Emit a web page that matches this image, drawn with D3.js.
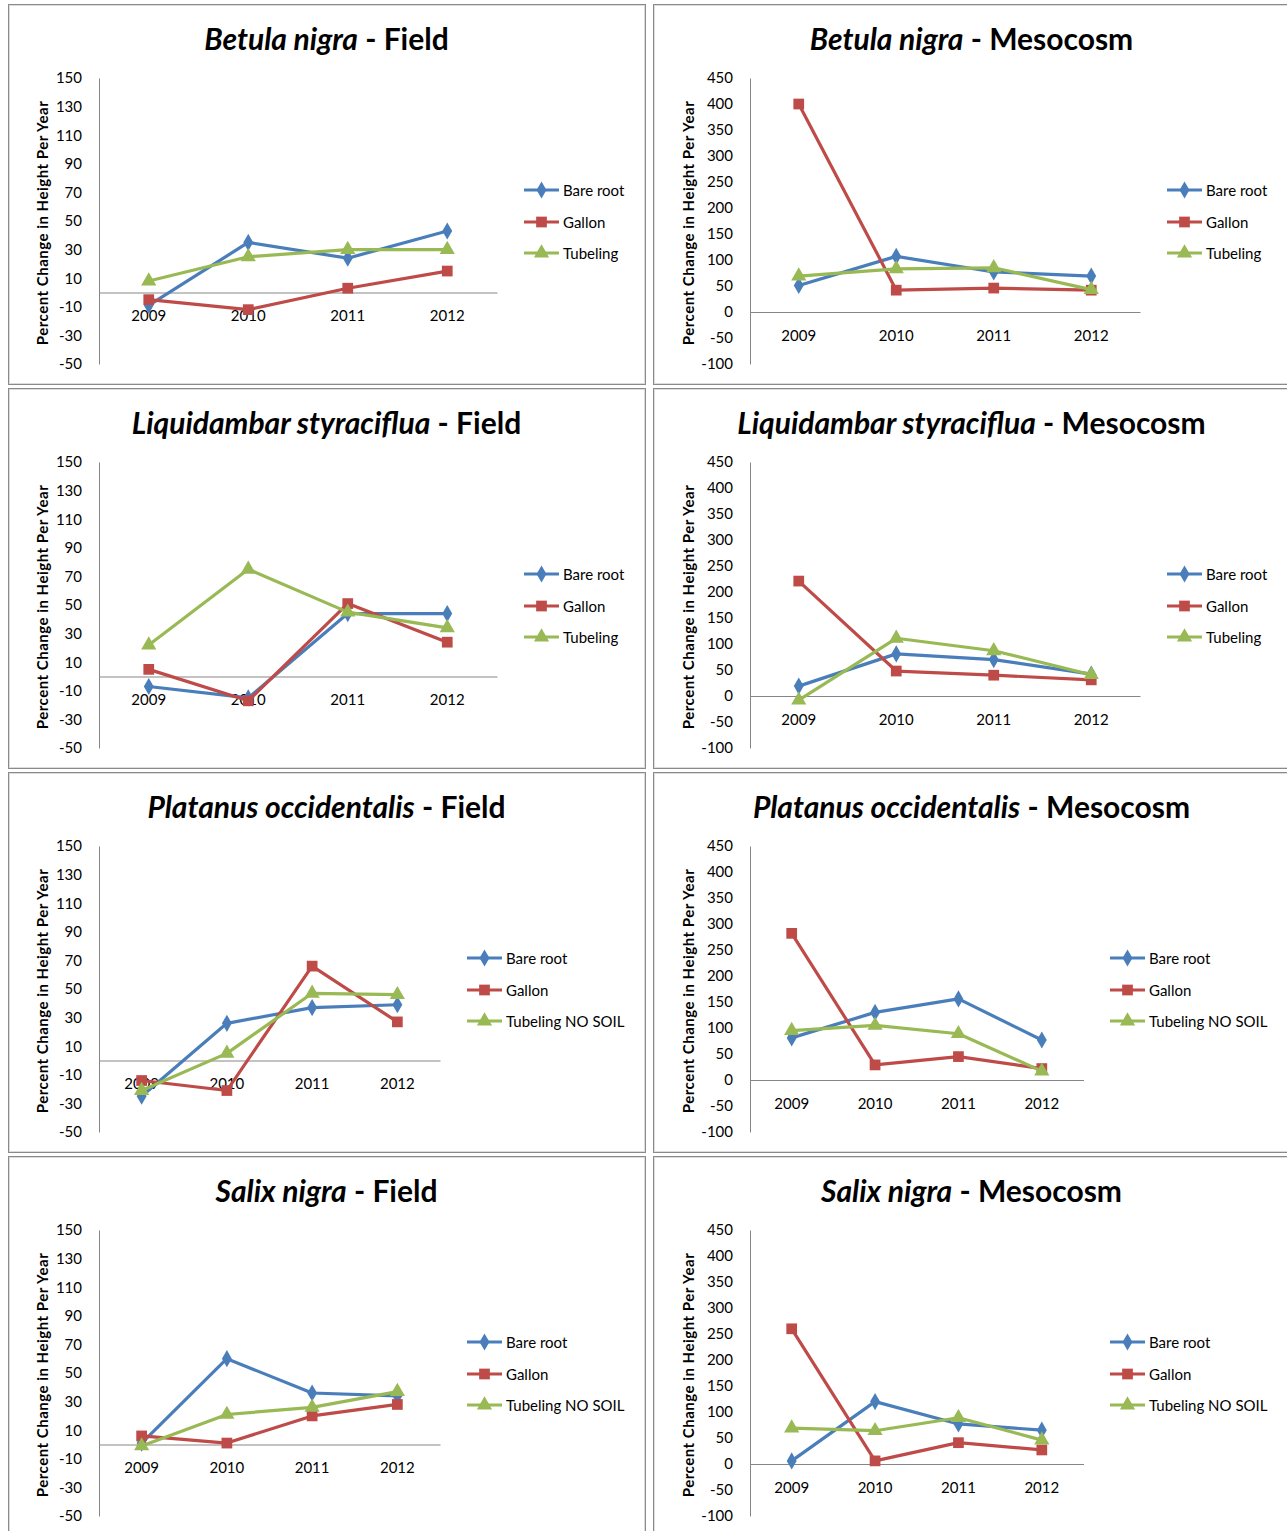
<!DOCTYPE html>
<html><head><meta charset="utf-8">
<script src="https://cdn.jsdelivr.net/npm/d3@7/dist/d3.min.js"></script>
<style>
html,body{margin:0;padding:0;background:#fff;}
svg{display:block;font-family:Lato, "Open Sans", sans-serif;}
</style></head>
<body>
<svg id="chart" width="1287" height="1531"></svg>
<script>
// ---- data ----
const years = ["2009", "2010", "2011", "2012"];
const speciesNames = ["Betula nigra", "Liquidambar styraciflua", "Platanus occidentalis", "Salix nigra"];
const siteNames = ["Field", "Mesocosm"];
const seriesNamesTubeling = ["Bare root", "Gallon", "Tubeling"];
const seriesNamesNoSoil = ["Bare root", "Gallon", "Tubeling NO SOIL"];
const fieldTicks = [150, 130, 110, 90, 70, 50, 30, 10, -10, -30, -50];
const mesoTicks = [450, 400, 350, 300, 250, 200, 150, 100, 50, 0, -50, -100];

// [Bare root, Gallon, Tubeling] per panel
const betulaField = [[-9, 35, 24, 43], [-5, -12, 3, 15], [8, 25, 30, 30]];
const betulaMeso = [[51, 107, 77, 69], [400, 42, 46, 42], [69, 83, 85, 43]];
const liquidambarField = [[-7, -15, 44, 44], [5, -17, 51, 24], [22, 75, 45, 34]];
const liquidambarMeso = [[19, 81, 70, 42], [221, 48, 40, 31], [-8, 111, 87, 41]];
const platanusField = [[-25, 26, 37, 39], [-14, -21, 66, 27], [-21, 5, 47, 46]];
const platanusMeso = [[81, 130, 156, 77], [282, 29, 45, 22], [95, 105, 89, 17]];
const salixField = [[1, 60, 36, 34], [6, 1, 20, 28], [-1, 21, 26, 37]];
const salixMeso = [[6, 120, 77, 65], [260, 6, 41, 27], [69, 64, 89, 46]];

const colors = ["#4A7EBB", "#BE4B48", "#98B954"];
const markers = [d3.symbolDiamond, d3.symbolSquare, d3.symbolTriangle];
const markerSizes = [85, 115, 100];

const panels = [
  {sp: 0, site: 0, vals: betulaField, names: seriesNamesTubeling},
  {sp: 0, site: 1, vals: betulaMeso, names: seriesNamesTubeling},
  {sp: 1, site: 0, vals: liquidambarField, names: seriesNamesTubeling},
  {sp: 1, site: 1, vals: liquidambarMeso, names: seriesNamesTubeling},
  {sp: 2, site: 0, vals: platanusField, names: seriesNamesNoSoil},
  {sp: 2, site: 1, vals: platanusMeso, names: seriesNamesNoSoil},
  {sp: 3, site: 0, vals: salixField, names: seriesNamesNoSoil},
  {sp: 3, site: 1, vals: salixMeso, names: seriesNamesNoSoil}
];

const svg = d3.select("#chart");
const colX = [8, 653];
const rowY = [4, 388, 772, 1156];
const frameW = 637, frameH = 380;

panels.forEach((p, i) => {
  const col = i % 2, row = Math.floor(i / 2);
  const g = svg.append("g").attr("transform", `translate(${colX[col]},${rowY[row]})`);
  const isMeso = p.site === 1;
  const longLegend = row >= 2;

  // frame
  g.append("rect").attr("x", 0.5).attr("y", 0.5).attr("width", frameW).attr("height", frameH)
    .attr("fill", "#fff").attr("stroke", "#8a8a8a").attr("stroke-width", 1);
  g.append("rect").attr("x", 1.5).attr("y", 1.5).attr("width", frameW - 2).attr("height", frameH - 2)
    .attr("fill", "none").attr("stroke", "#dcdcdc").attr("stroke-width", 1);

  // title
  const t = g.append("text").attr("x", frameW / 2).attr("y", 34).attr("text-anchor", "middle")
    .attr("dominant-baseline", "central").attr("font-size", 30).attr("font-weight", "bold").attr("fill", "#000");
  t.append("tspan").attr("font-style", "italic").text(speciesNames[p.sp]);
  t.append("tspan").text(" - " + siteNames[p.site]);

  const axisX = isMeso ? 97 : 91;
  const plotRight = longLegend ? (isMeso ? 430.5 : 432) : (isMeso ? 487 : 489);
  const top = 74, bottom = 360;

  const x = d3.scaleBand().domain(years).range([axisX, plotRight]);
  const y = d3.scaleLinear().domain(isMeso ? [-100, 450] : [-50, 150]).range([bottom, top]);

  // y axis
  const ya = g.append("g").attr("transform", `translate(${axisX},0)`)
    .call(d3.axisLeft(y).tickValues(isMeso ? mesoTicks : fieldTicks)
      .tickFormat(d => String(d)).tickSize(0).tickPadding(17));
  ya.select(".domain").attr("stroke", "#868686");
  ya.selectAll("text").attr("font-size", 15).attr("fill", "#000").attr("font-family", "Lato");

  // x axis at zero
  const xa = g.append("g").attr("transform", `translate(0,${y(0)})`)
    .call(d3.axisBottom(x).tickSize(0).tickPadding(18));
  xa.select(".domain").attr("stroke", "#868686");
  xa.selectAll("text").attr("font-size", 15).attr("fill", "#000").attr("font-family", "Lato");

  // y title
  g.append("text").attr("transform", `translate(${isMeso ? 35 : 34},219) rotate(-90)`)
    .attr("text-anchor", "middle").attr("dominant-baseline", "central")
    .attr("font-size", 15).attr("font-weight", "bold").attr("fill", "#000")
    .attr("letter-spacing", 0.5)
    .text("Percent Change  in Height  Per Year");

  // series
  const line = d3.line().x((d, j) => x(years[j]) + x.bandwidth() / 2).y(d => y(d));
  p.vals.forEach((vals, s) => {
    const sg = g.append("g");
    sg.append("path").attr("d", line(vals)).attr("fill", "none")
      .attr("stroke", colors[s]).attr("stroke-width", 3.2).attr("stroke-linejoin", "round");
    sg.selectAll("path.m").data(vals).enter().append("path").attr("class", "m")
      .attr("transform", (d, j) => `translate(${x(years[j]) + x.bandwidth() / 2},${y(d)})`)
      .attr("d", d3.symbol().type(markers[s]).size(markerSizes[s]))
      .attr("fill", colors[s]);
  });

  // legend
  const lx = longLegend ? (isMeso ? 457 : 459) : (isMeso ? 514 : 516);
  const ly = [186, 218, 249];
  p.names.forEach((name, s) => {
    const lg = g.append("g").attr("transform", `translate(${lx},${ly[s]})`);
    lg.append("line").attr("x1", 0).attr("x2", 35).attr("y1", 0).attr("y2", 0)
      .attr("stroke", colors[s]).attr("stroke-width", 3.2);
    lg.append("path").attr("transform", "translate(17.5,0)")
      .attr("d", d3.symbol().type(markers[s]).size(markerSizes[s])).attr("fill", colors[s]);
    lg.append("text").attr("x", 39).attr("y", 0).attr("dominant-baseline", "central")
      .attr("font-size", 15).attr("fill", "#000").text(name);
  });
});
</script>
</body></html>
